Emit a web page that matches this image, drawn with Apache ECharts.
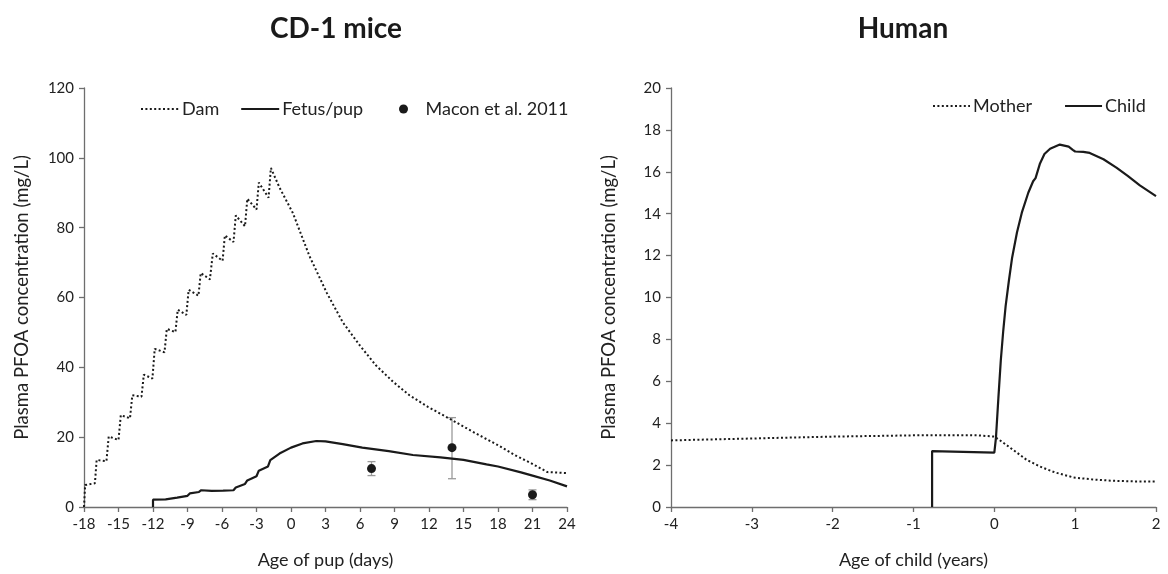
<!DOCTYPE html>
<html>
<head>
<meta charset="utf-8">
<script src="https://cdn.jsdelivr.net/npm/echarts@6/dist/echarts.min.js"></script>
<style>
  html, body { margin: 0; padding: 0; background: #fff; }
  #main { width: 1168px; height: 574px; }
</style>
</head>
<body>
<div id="main"></div>
<script>
// CD-1 mice: [day, mg/L]
const damCurve = [
  [-18, 0], [-17.9, 6.3], [-17.05, 6.8], [-16.9, 13.5], [-16.05, 13.1], [-15.85, 20.2],
  [-15.0, 19.2], [-14.8, 26.3], [-14.0, 25.4], [-13.8, 32.0], [-13.0, 31.6], [-12.8, 37.9],
  [-12.05, 36.8], [-11.85, 45.3], [-11.0, 44.3], [-10.8, 51.0], [-10.05, 50.1], [-9.85, 56.5],
  [-9.1, 55.0], [-8.9, 62.2], [-8.05, 60.5], [-7.85, 67.0], [-7.05, 65.2], [-6.8, 72.6],
  [-5.95, 70.5], [-5.75, 77.8], [-5.0, 75.9], [-4.8, 83.5], [-4.0, 80.4], [-3.8, 88.3],
  [-3.0, 85.2], [-2.8, 92.9], [-1.95, 88.6], [-1.75, 97.1], [-1.0, 91.5], [0.16, 84.2],
  [1.6, 71.9], [3.1, 61.4], [4.5, 52.9], [6.0, 46.2], [7.4, 40.5], [8.9, 35.8],
  [10.3, 32.0], [11.9, 28.7], [14, 24.9], [16, 21.2], [18, 17.7], [19.5, 14.8],
  [20.9, 12.5], [22.3, 10.0], [24, 9.7]
];
const fetusCurve = [
  [-12, 0], [-12, 2.1], [-10.9, 2.2], [-10.8, 2.6], [-9.9, 2.7], [-9.8, 3.0], [-9.0, 3.2],
  [-8.8, 3.9], [-8.0, 4.3], [-7.8, 4.8], [-6.9, 4.6], [-6.8, 5.0], [-5.9, 4.7], [-5.8, 5.0],
  [-5.0, 4.8], [-4.8, 5.6], [-4.0, 6.6], [-3.8, 7.6], [-3.0, 8.8], [-2.8, 10.4], [-2.0, 11.6],
  [-1.8, 13.4], [-1.0, 15.3], [0, 17.0], [1, 18.2], [2.2, 18.9], [3, 18.8], [4.5, 18.0],
  [6.2, 17.0], [8.5, 16.0], [10.6, 14.9], [13, 14.2], [15, 13.5], [17, 12.2], [18, 11.6],
  [20, 9.9], [21, 9.0], [22.5, 7.6], [24, 5.9]
];
const maconDays = [7, 14, 21];
const maconMean = [11, 17, 3.5];
const maconLow = [9.0, 8.1, 2.1];
const maconHigh = [13.0, 25.6, 4.9];

// Human: [years, mg/L]
const motherCurve = [
  [-4, 3.18], [-3, 3.27], [-2, 3.36], [-1, 3.42], [-0.5, 3.43], [-0.2, 3.42], [0, 3.36],
  [0.1, 3.1], [0.235, 2.72], [0.4, 2.25], [0.565, 1.93], [0.75, 1.65], [0.98, 1.41],
  [1.2, 1.32], [1.47, 1.25], [1.75, 1.22], [2, 1.22]
];
const childCurve = [
  [-0.77, 0], [-0.77, 2.67], [0, 2.6], [0.02, 3.3], [0.05, 5.2], [0.08, 7.0], [0.11, 8.4],
  [0.14, 9.6], [0.18, 10.8], [0.22, 11.9], [0.28, 13.1], [0.34, 14.05], [0.42, 15.0],
  [0.48, 15.55], [0.51, 15.7], [0.565, 16.4], [0.62, 16.85], [0.69, 17.1], [0.81, 17.3],
  [0.92, 17.2], [0.97, 17.05], [1.0, 16.97], [1.1, 16.95], [1.18, 16.9], [1.35, 16.6],
  [1.51, 16.2], [1.65, 15.8], [1.8, 15.35], [2.0, 14.84]
];

const FONT = 'Lato';
const INK = '#1a1a1a';
const AXIS = '#6e6e6e';

function xAxisOpt(idx, min, max, interval, name) {
  return {
    gridIndex: idx, type: 'value', min: min, max: max, interval: interval,
    name: name, nameLocation: 'middle', nameGap: 44,
    nameTextStyle: { fontFamily: FONT, fontSize: 18, color: '#222' },
    axisLine: { onZero: false, lineStyle: { color: AXIS, width: 1.3 } },
    axisTick: { show: true, length: 5, lineStyle: { color: AXIS, width: 1.3 } },
    axisLabel: { fontFamily: FONT, fontSize: 15, color: '#222', margin: 10 },
    splitLine: { show: false }
  };
}
function yAxisOpt(idx, max, interval) {
  return {
    gridIndex: idx, type: 'value', min: 0, max: max, interval: interval,
    name: 'Plasma PFOA concentration (mg/L)', nameLocation: 'middle', nameGap: 52,
    nameTextStyle: { fontFamily: FONT, fontSize: 18.5, color: '#222' },
    axisLine: { show: true, onZero: false, lineStyle: { color: AXIS, width: 1.3 } },
    axisTick: { show: true, length: 5, lineStyle: { color: AXIS, width: 1.3 } },
    axisLabel: { fontFamily: FONT, fontSize: 15, color: '#222', margin: 10 },
    splitLine: { show: false }
  };
}

const lineLegend = { itemStyle: { opacity: 0 } };
const legendText = { fontFamily: FONT, fontSize: 18, color: '#222', padding: [0, 0, 0, -2] };

const chart = echarts.init(document.getElementById('main'));
chart.setOption({
  animation: false,
  title: [
    { text: 'CD-1 mice', left: 331, top: 10, textAlign: 'center',
      textStyle: { fontFamily: FONT, fontSize: 28, fontWeight: 'bold', color: INK } },
    { text: 'Human', left: 898, top: 10, textAlign: 'center',
      textStyle: { fontFamily: FONT, fontSize: 28, fontWeight: 'bold', color: INK } }
  ],
  legend: [
    { data: [
        Object.assign({ name: 'Dam' }, lineLegend),
        Object.assign({ name: 'Fetus/pup' }, lineLegend)
      ],
      left: 135, top: 95, itemWidth: 38, itemHeight: 9, itemGap: 21, textStyle: legendText },
    { data: ['Macon et al. 2011'],
      left: 394, top: 95, itemWidth: 38, itemHeight: 9, textStyle: legendText },
    { data: [
        Object.assign({ name: 'Mother' }, lineLegend),
        Object.assign({ name: 'Child' }, lineLegend)
      ],
      left: 927, top: 92, itemWidth: 37, itemHeight: 9, itemGap: 32, textStyle: legendText }
  ],
  grid: [
    { left: 84, right: 601, top: 88, bottom: 65 },
    { left: 671, right: 12, top: 88, bottom: 65 }
  ],
  xAxis: [
    xAxisOpt(0, -18, 24, 3, 'Age of pup (days)'),
    xAxisOpt(1, -4, 2, 1, 'Age of child (years)')
  ],
  yAxis: [
    yAxisOpt(0, 120, 20),
    yAxisOpt(1, 20, 2)
  ],
  series: [
    { name: 'Dam', type: 'line', xAxisIndex: 0, yAxisIndex: 0, data: damCurve,
      showSymbol: false, symbol: 'none', color: INK,
      lineStyle: { color: INK, width: 2, type: [2, 2.4] } },
    { name: 'Fetus/pup', type: 'line', xAxisIndex: 0, yAxisIndex: 0, data: fetusCurve,
      showSymbol: false, symbol: 'none', color: INK,
      lineStyle: { color: INK, width: 2.2 } },
    { name: 'Macon error bars', type: 'custom', xAxisIndex: 0, yAxisIndex: 0,
      data: maconDays.map((d, i) => [d, maconLow[i], maconHigh[i]]),
      renderItem: function (params, api) {
        const lo = api.coord([api.value(0), api.value(1)]);
        const hi = api.coord([api.value(0), api.value(2)]);
        const st = { stroke: '#9a9a9a', lineWidth: 1.3 };
        return {
          type: 'group',
          children: [
            { type: 'line', shape: { x1: lo[0], y1: lo[1], x2: hi[0], y2: hi[1] }, style: st },
            { type: 'line', shape: { x1: lo[0] - 4, y1: lo[1], x2: lo[0] + 4, y2: lo[1] }, style: st },
            { type: 'line', shape: { x1: hi[0] - 4, y1: hi[1], x2: hi[0] + 4, y2: hi[1] }, style: st }
          ]
        };
      },
      silent: true, z: 1
    },
    { name: 'Macon et al. 2011', type: 'scatter', xAxisIndex: 0, yAxisIndex: 0,
      data: maconDays.map((d, i) => [d, maconMean[i]]),
      symbol: 'circle', symbolSize: 9, itemStyle: { color: INK, opacity: 1 }, z: 3 },
    { name: 'Mother', type: 'line', xAxisIndex: 1, yAxisIndex: 1, data: motherCurve,
      showSymbol: false, symbol: 'none', color: INK,
      lineStyle: { color: INK, width: 2, type: [2, 2.4] } },
    { name: 'Child', type: 'line', xAxisIndex: 1, yAxisIndex: 1, data: childCurve,
      showSymbol: false, symbol: 'none', color: INK,
      lineStyle: { color: INK, width: 2.2 } }
  ]
});
</script>
</body>
</html>
